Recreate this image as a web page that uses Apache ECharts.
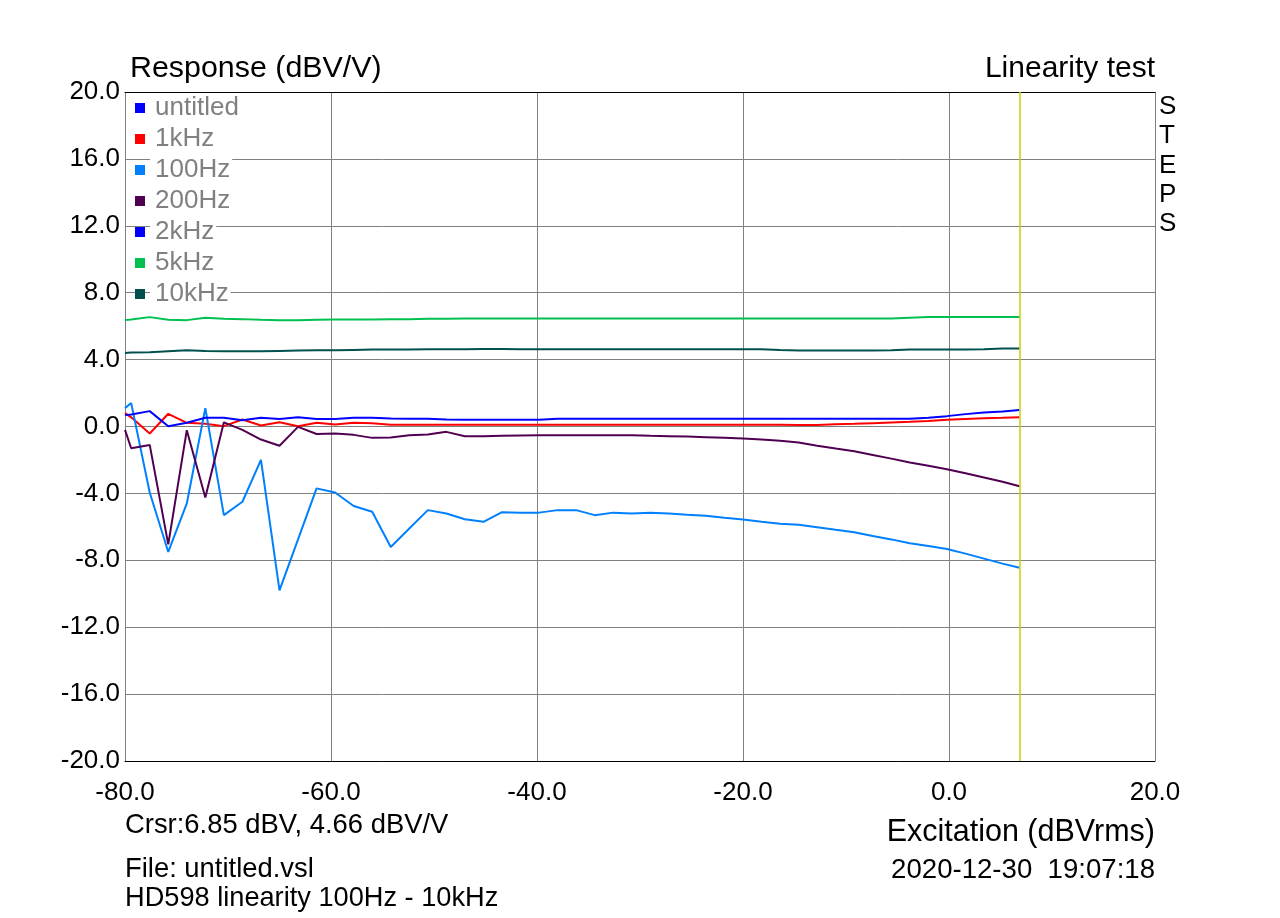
<!DOCTYPE html>
<html>
<head>
<meta charset="utf-8">
<script src="https://cdn.jsdelivr.net/npm/echarts@6/dist/echarts.min.js"></script>
<style>
html,body{margin:0;padding:0;background:#fff;}
#chart{width:1280px;height:918px;}
</style>
</head>
<body>
<div id="chart"></div>
<script>
// ---- Data ----
const excitation = [-80, -79.4, -77.6, -75.8, -74.0, -72.2, -70.4, -68.6, -66.8, -65.0,
  -63.2, -61.4, -59.6, -57.8, -56.0, -54.2, -52.4, -50.6, -48.8, -47.0,
  -45.2, -43.4, -41.6, -39.8, -38.0, -36.2, -34.4, -32.6, -30.8, -29.0,
  -27.2, -25.4, -23.6, -21.8, -20.0, -18.2, -16.4, -14.6, -12.8, -11.0,
  -9.2, -7.4, -5.6, -3.8, -2.0, -0.2, 1.6, 3.4, 5.2, 6.85];

const untitled = [];
const r1kHz = [0.8, 0.55, -0.42, 0.76, 0.22, 0.16, 0.02, 0.42, 0.06, 0.26,
  0.02, 0.22, 0.12, 0.22, 0.2, 0.1, 0.1, 0.1, 0.1, 0.1,
  0.1, 0.1, 0.1, 0.1, 0.1, 0.1, 0.1, 0.1, 0.1, 0.1,
  0.1, 0.1, 0.1, 0.1, 0.1, 0.1, 0.1, 0.09, 0.09, 0.14,
  0.16, 0.2, 0.24, 0.28, 0.33, 0.4, 0.45, 0.5, 0.53, 0.56];
const r100Hz = [1.1, 1.4, -3.95, -7.5, -4.6, 1.1, -5.3, -4.5, -2.0, -9.8,
  -6.75, -3.7, -3.95, -4.75, -5.1, -7.2, -6.1, -5.0, -5.2, -5.55,
  -5.7, -5.12, -5.15, -5.15, -5.0, -5.0, -5.3, -5.15, -5.2, -5.16,
  -5.2, -5.28, -5.33, -5.45, -5.56, -5.7, -5.82, -5.88, -6.03, -6.18,
  -6.32, -6.55, -6.75, -6.98, -7.15, -7.33, -7.6, -7.9, -8.2, -8.45];
const r200Hz = [-0.2, -1.3, -1.1, -7.05, -0.22, -4.25, 0.25, -0.2, -0.78, -1.15,
  -0.02, -0.45, -0.42, -0.5, -0.68, -0.66, -0.52, -0.48, -0.32, -0.58,
  -0.58, -0.56, -0.54, -0.52, -0.52, -0.52, -0.52, -0.52, -0.53, -0.56,
  -0.58, -0.6, -0.64, -0.68, -0.72, -0.78, -0.85, -0.96, -1.15, -1.32,
  -1.48, -1.7, -1.92, -2.15, -2.35, -2.56, -2.8, -3.05, -3.3, -3.57];
const r2kHz = [0.68, 0.72, 0.92, 0.02, 0.22, 0.52, 0.52, 0.38, 0.52, 0.45,
  0.56, 0.45, 0.45, 0.52, 0.52, 0.48, 0.46, 0.46, 0.42, 0.4,
  0.4, 0.4, 0.4, 0.4, 0.46, 0.46, 0.46, 0.46, 0.46, 0.46,
  0.46, 0.46, 0.46, 0.46, 0.46, 0.46, 0.46, 0.46, 0.46, 0.46,
  0.46, 0.46, 0.46, 0.47, 0.52, 0.62, 0.74, 0.83, 0.9, 0.98];
const r5kHz = [6.36, 6.4, 6.54, 6.38, 6.36, 6.5, 6.44, 6.42, 6.38, 6.36,
  6.36, 6.38, 6.4, 6.4, 6.4, 6.42, 6.42, 6.44, 6.44, 6.46,
  6.46, 6.46, 6.46, 6.46, 6.46, 6.46, 6.46, 6.46, 6.46, 6.46,
  6.46, 6.46, 6.46, 6.46, 6.46, 6.46, 6.46, 6.46, 6.46, 6.46,
  6.46, 6.46, 6.46, 6.5, 6.54, 6.54, 6.54, 6.54, 6.54, 6.54];
const r10kHz = [4.4, 4.42, 4.44, 4.5, 4.56, 4.52, 4.5, 4.5, 4.5, 4.52,
  4.54, 4.56, 4.56, 4.58, 4.6, 4.6, 4.6, 4.62, 4.62, 4.62,
  4.64, 4.64, 4.62, 4.62, 4.62, 4.62, 4.62, 4.62, 4.62, 4.62,
  4.62, 4.62, 4.62, 4.62, 4.62, 4.62, 4.58, 4.55, 4.55, 4.55,
  4.55, 4.55, 4.56, 4.6, 4.6, 4.6, 4.6, 4.62, 4.66, 4.67];

const seriesNames = ['untitled', '1kHz', '100Hz', '200Hz', '2kHz', '5kHz', '10kHz'];
const seriesValues = [untitled, r1kHz, r100Hz, r200Hz, r2kHz, r5kHz, r10kHz];
const seriesColors = ['#0000ff', '#ff0000', '#0080ff', '#500050', '#0000ff', '#00c050', '#005050'];

const cursorX = 6.85;
const xMin = -80, xMax = 20, xStep = 20;
const yMin = -20, yMax = 20, yStep = 4;

const titleLeft = 'Response (dBV/V)';
const titleRight = 'Linearity test';
const sideText = ['S', 'T', 'E', 'P', 'S'];
const cursorText = 'Crsr:6.85 dBV, 4.66 dBV/V';
const xAxisTitle = 'Excitation (dBVrms)';
const fileText = 'File: untitled.vsl';
const descText = 'HD598 linearity 100Hz - 10kHz';
const dateText = '2020-12-30  19:07:18';

// ---- Chart ----
const FONT = '"Liberation Sans", Arial, sans-serif';
const chart = echarts.init(document.getElementById('chart'), null, {renderer: 'canvas'});

function txt(text, x, y, size, align) {
  return {
    type: 'text', x: x, y: y, silent: true,
    style: {
      text: text, fill: '#000', font: size + 'px ' + FONT,
      align: align, textAlign: align,
      verticalAlign: 'middle', textVerticalAlign: 'middle'
    }
  };
}

const graphics = [
  txt(titleLeft, 130, 69, 30.4, 'left'),
  txt(titleRight, 1155, 69, 30, 'right'),
  txt(cursorText, 125, 825, 27.4, 'left'),
  txt(xAxisTitle, 1155, 833, 30.5, 'right'),
  txt(fileText, 125, 869, 27.4, 'left'),
  txt(descText, 125, 899, 27.2, 'left'),
  txt(dateText, 1155, 870, 27.6, 'right')
];
sideText.forEach((ch, i) => graphics.push(txt(ch, 1159, 107 + i * 29.2, 26, 'left')));

const series = seriesNames.map((name, i) => ({
  name: name,
  type: 'line',
  data: seriesValues[i].map((v, k) => [excitation[k], v]),
  showSymbol: false,
  symbol: 'none',
  color: seriesColors[i],
  itemStyle: {color: seriesColors[i]},
  lineStyle: {color: seriesColors[i], width: 2},
  animation: false,
  silent: true
}));
series.push({
  name: 'cursor', type: 'line', data: [], silent: true, animation: false,
  color: '#cccc00',
  markLine: {
    symbol: 'none', silent: true, animation: false,
    label: {show: false},
    lineStyle: {color: '#cccc00', width: 1.5, type: 'solid', opacity: 1},
    emphasis: {disabled: true},
    data: [{xAxis: cursorX}]
  }
});

chart.setOption({
  backgroundColor: '#fff',
  animation: false,
  grid: {left: 125, right: 125, top: 92, bottom: 157, containLabel: false},
  xAxis: [{
    type: 'value', min: xMin, max: xMax, interval: xStep, position: 'bottom',
    axisLine: {show: true, onZero: false, lineStyle: {color: '#000', width: 1}},
    axisTick: {show: false},
    splitLine: {show: true, lineStyle: {color: '#808080', width: 1}},
    axisLabel: {fontSize: 26, fontFamily: FONT, color: '#000', margin: 19,
      formatter: v => v.toFixed(1)}
  }, {
    type: 'value', min: xMin, max: xMax, interval: xStep, position: 'top',
    axisLine: {show: true, onZero: false, lineStyle: {color: '#000', width: 1}},
    axisTick: {show: false}, axisLabel: {show: false}, splitLine: {show: false}
  }],
  yAxis: {
    type: 'value', min: yMin, max: yMax, interval: yStep,
    axisLine: {show: false},
    axisTick: {show: false},
    splitLine: {show: true, lineStyle: {color: '#808080', width: 1}},
    axisLabel: {fontSize: 26, fontFamily: FONT, color: '#000', margin: 5,
      padding: [4, 0, 0, 0],
      formatter: v => v.toFixed(1)}
  },
  legend: {
    orient: 'vertical', left: 135, top: 95, padding: 0, itemGap: 5,
    itemWidth: 10, itemHeight: 10, icon: 'rect', selectedMode: false,
    data: seriesNames,
    textStyle: {fontSize: 26, fontFamily: FONT, color: '#808080', lineHeight: 26,
      backgroundColor: '#fff', padding: [0, 2, 0, 5]}
  },
  graphic: graphics,
  series: series
});
</script>
</body>
</html>
